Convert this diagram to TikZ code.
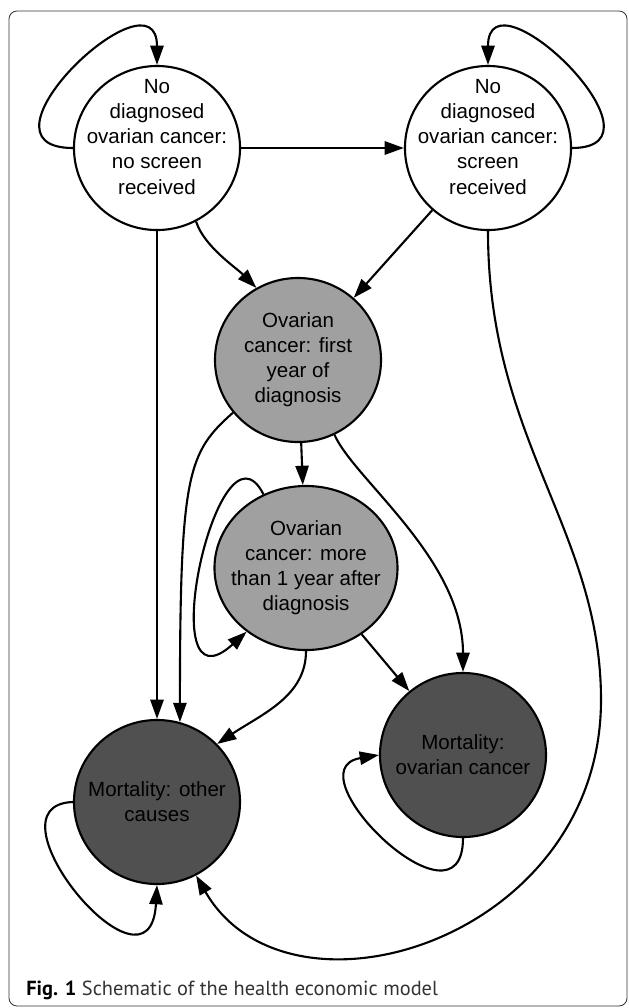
\documentclass[tikz,border=0pt]{standalone}
\usepackage{fontspec}
\setmainfont{Liberation Sans}
\newfontfamily\captionfont{PT Sans}
\usetikzlibrary{shapes.geometric, arrows.meta}

\definecolor{stagegrey}{HTML}{A0A0A0}
\definecolor{deathgrey}{HTML}{505050}

\begin{document}
\begin{tikzpicture}[
    x=0.025cm, y=-0.025cm,
    state/.style={ellipse, draw, line width=1.5pt, minimum width=4.15cm, minimum height=4.1cm, inner sep=-0.9cm, align=center, font=\fontsize{14.6}{17.8}\selectfont},
    arrow/.style={-{Triangle[length=0.48cm, width=0.33cm]}, line width=1.5pt}
]
\useasboundingbox (0,0) rectangle (629,1008);

% Frame
\draw[rounded corners=0.2cm, line width=0.6pt, black!80] (9,11) rectangle (627,1006);

% No diagnosis
\node[state, fill=white] (noscreen) at (157,148) {No\\diagnosed\\ovarian cancer:\\no screen\\received\\[-2pt]};
\node[state, fill=white] (screen) at (488,148) {No\\diagnosed\\ovarian cancer:\\screen\\received\\[-2pt]};

% Ovarian cancer
\node[state, fill=stagegrey] (firstyear) at (298,360) {Ovarian\\cancer: first\\year of\\diagnosis};
\node[state, fill=stagegrey, minimum width=4.575cm] (later) at (306,568) {Ovarian\\cancer: more\\than 1 year after\\diagnosis};

% Mortality
\node[state, fill=deathgrey] (othercause) at (157,802) {Mortality: other\\causes};
\node[state, fill=deathgrey] (ovcause) at (463,755) {Mortality:\\ovarian cancer};

\coordinate (bend) at (601,700);

% Self loops
\draw[arrow] (noscreen.west) .. controls +(-110,0) and +(0,-100) .. (noscreen.north);
\draw[arrow] (screen.east) .. controls +(105,0) and +(0,-100) .. (screen.north);
\draw[arrow] (later.120) .. controls +(-45,-88) and +(-97,88) .. (later.227);
\draw[arrow] (othercause.west) .. controls +(-93,3) and +(-7,126) .. (othercause.south);
\draw[arrow] (ovcause.south) .. controls +(0,102) and +(-90,15) .. (ovcause.west);

% Transitions
\draw[arrow] (noscreen) -- (screen);
\draw[arrow] (noscreen) -- (othercause);
\draw[arrow] (noscreen.-62) .. controls +(8,25) and +(-20,-20) .. (firstyear.120);
\draw[arrow] (screen) -- (firstyear);
\draw[arrow] (screen.south) .. controls +(0,210) and +(0,-170) .. (bend) .. controls +(0,240) and +(92,160) .. (othercause.-62);
\draw[arrow] (firstyear) -- (later);
\draw[arrow] (firstyear.-141) .. controls +(-45,40) and +(0,-250) .. (othercause.74);
\draw[arrow] (firstyear.-64) .. controls +(20,45) and +(0,-113) .. (ovcause.north);
\draw[arrow] (later.south) .. controls +(0,45) and +(45,-30) .. (othercause.44);
\draw[arrow] (later) -- (ovcause);

% Caption
\node[anchor=base west, inner sep=0pt, text=black!80, font=\captionfont\fontsize{14.5}{17}\selectfont] (caption) at (26,995) {\textbf{\color{black}Fig. 1} Schematic of the health economic model};
\end{tikzpicture}
\end{document}
